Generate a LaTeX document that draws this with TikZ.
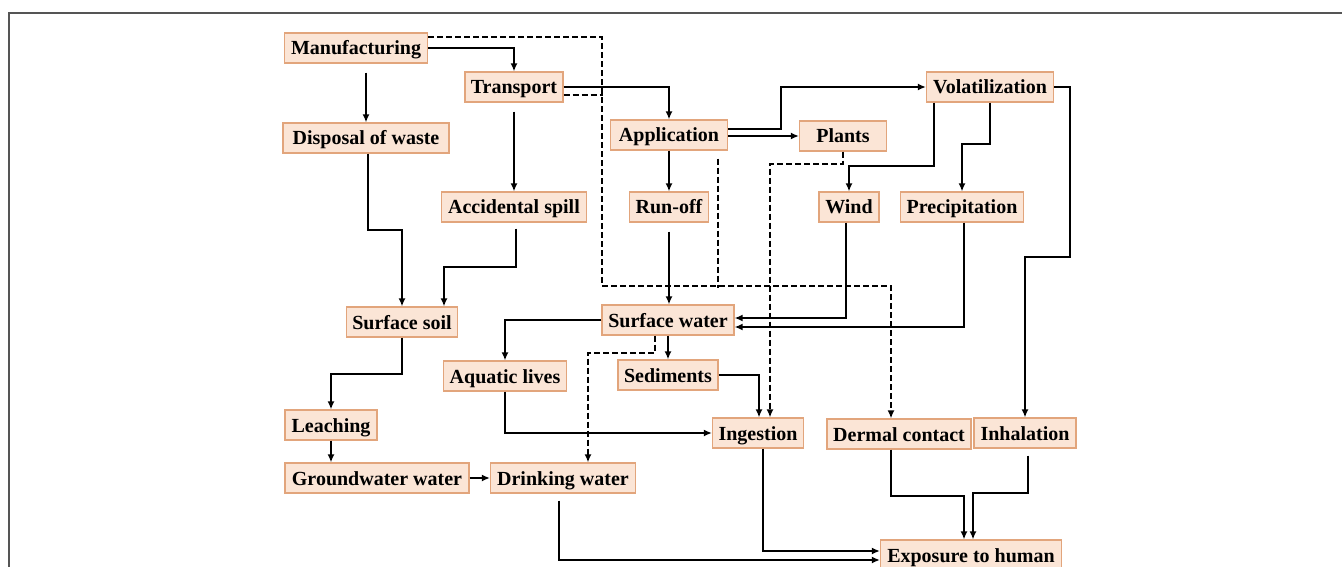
\documentclass[tikz,border=0pt]{standalone}
\usepackage{fontspec}
\setmainfont{Liberation Serif}
\usetikzlibrary{arrows.meta}
\definecolor{boxfill}{HTML}{FBE5D6}
\definecolor{boxline}{HTML}{E2A57C}
\definecolor{framecol}{HTML}{555555}

\begin{document}
\begin{tikzpicture}[x=1pt, y=-1pt,
  box/.style={draw=boxline, fill=boxfill, line width=1.2pt, font=\bfseries\fontsize{20}{20}\selectfont, minimum height=30pt, inner sep=0pt, text height=16pt, text depth=2pt},
  arr/.style={line width=2pt, -{Latex[length=8pt,width=7pt]}},
  dline/.style={line width=2pt, dash pattern=on 6pt off 3pt},
  darr/.style={dline, -{Latex[length=8pt,width=7pt]}}]
\useasboundingbox (0,0) rectangle (1342,567);
\draw[framecol, line width=1.2pt] (1342,13) -- (9,13) -- (9,567);

% sources
\node[box, minimum width=143pt] (manu) at (356,48) {Manufacturing};
\node[box, minimum width=98pt] (trans) at (514,87) {Transport};
\node[box, minimum width=166pt] (disp) at (366,138) {Disposal of waste};
\node[box, minimum width=117pt] (appl) at (669,135) {Application};
\node[box, minimum width=87pt] (plants) at (843,136) {Plants};
\node[box, minimum width=127pt] (vola) at (990,87) {Volatilization};
\node[box, minimum width=145pt] (spill) at (514,207) {Accidental spill};
\node[box, minimum width=79pt] (runoff) at (669,207) {Run-off};
\node[box, minimum width=60pt] (wind) at (849,207) {Wind};
\node[box, minimum width=123pt] (prec) at (962,207) {Precipitation};
% media
\node[box, minimum width=111pt] (soil) at (402,322) {Surface soil};
\node[box, minimum width=132pt] (surfw) at (668,320) {Surface water};
\node[box, minimum width=123pt] (aqua) at (505,376) {Aquatic lives};
\node[box, minimum width=100pt] (sedi) at (668,375) {Sediments};
\node[box, minimum width=92pt] (leach) at (331,425) {Leaching};
\node[box, minimum width=184pt] (ground) at (377,478) {Groundwater water};
\node[box, minimum width=145pt] (drink) at (563,478) {Drinking water};
% routes
\node[box, minimum width=91pt] (inge) at (758,433) {Ingestion};
\node[box, minimum width=144pt] (derm) at (899,434) {Dermal contact};
\node[box, minimum width=102pt] (inhal) at (1025,433) {Inhalation};
\node[box, minimum width=181pt] (expo) at (971,555) {Exposure to human};

\draw[arr] (manu.east) -| (trans.north);
\draw[arr, shorten <=9pt] (disp.north |- manu.south) -- (disp.north);
\draw[arr] (trans.east) -| (appl.north);
\draw[arr, shorten <=9pt] (trans.south) -- (spill.north);
\draw[arr] ([yshift=6pt]appl.east) -- ++(53,0) |- (vola.west);
\draw[arr] (plants.west -| appl.east) -- (plants.west);
\draw[arr] (appl.south) -- (runoff.north);
\draw[arr, shorten <=9pt] (runoff.south) -- (runoff.south |- surfw.north);
\draw[arr] ([xshift=-56pt]vola.south) -- ++(0,63) -| (wind.north);
\draw[arr] (vola.south) -- ++(0,41) -| (prec.north);
\draw[arr] (vola.east) -- ++(16,0) -- ++(0,170) -| (inhal.north);
\draw[arr] ([xshift=-3pt]wind.south) |- ([yshift=2pt]surfw.east);
\draw[arr] ([xshift=2pt]prec.south) |- ([yshift=-7pt]surfw.east);
\draw[arr] (surfw.west) -| (aqua.north);
\draw[arr] (surfw.south) -- (sedi.north);
\draw[arr] (sedi.east) -| ([xshift=1pt]inge.north);
\draw[arr] (aqua.south) |- (inge.west);
\draw[arr] ([xshift=2pt]disp.south) -- ++(0,76) -| (soil.north);
\draw[arr, shorten <=6pt] ([xshift=2pt]spill.south) -- ++(0,44) -| ([xshift=42pt]soil.north);
\draw[arr] (soil.south) -- ++(0,36) -| (leach.north);
\draw[arr] (leach.south) -- (leach.south |- ground.north);
\draw[arr] (ground.east) -- (drink.west);
\draw[arr, shorten <=7pt] ([xshift=-4pt]drink.south) |- ([yshift=-5pt]expo.west);
\draw[arr] ([xshift=5pt]inge.south) |- ([yshift=4pt]expo.west);
\draw[arr] ([xshift=-8pt]derm.south) -- ++(0,46) -| ([xshift=-7pt]expo.north);
\draw[arr, shorten <=7pt] ([xshift=3pt]inhal.south) -- ++(0,44) -| ([xshift=2pt]expo.north);

% dashed
\coordinate (dj) at (602,286);
\draw[darr] ([yshift=11pt]manu.east) -| (dj) -| ([xshift=-8pt]derm.north);
\draw[dline] ([yshift=-8pt]trans.east) -- ++(39,0);
\draw[dline, shorten <=8pt] ([xshift=49pt]appl.south) -- ++(0,137);
\draw[darr] (plants.south) -- ++(0,12) -| ([xshift=12pt]inge.north);
\draw[darr] ([xshift=-13pt]surfw.south) -- ++(0,17) -| ([xshift=25pt]drink.north);
\end{tikzpicture}
\end{document}
